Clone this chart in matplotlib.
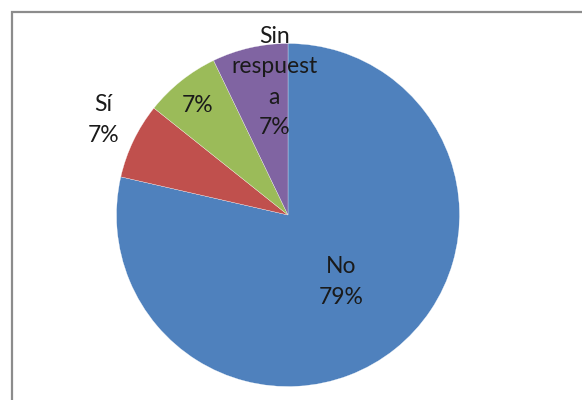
import matplotlib

matplotlib.use("Agg")
import matplotlib.pyplot as plt
import numpy as np
from matplotlib.patches import Rectangle

# datos (conteos) -> 79%, 7%, 7%, 7%
categorias = ["No", "Sí", "", "Sin\nrespuest\na"]
valores = [11, 1, 1, 1]
colores = ["#4F81BD", "#C0504D", "#9BBB59", "#8064A2"]
dist_etiqueta = [0.50, 1.21, 0.83, 0.78]   # radio relativo de cada etiqueta
desfase_ang = [0, -1.5, 1, -7]              # ajuste fino del angulo (grados)

W, H, DPI = 582, 400, 100
R_PX = 171.5
CX, CY = 288, 215  # centro del pastel en pixeles (desde arriba-izquierda)

plt.rcParams["font.family"] = ["Lato", "DejaVu Sans"]

fig = plt.figure(figsize=(W / DPI, H / DPI), dpi=DPI)
ax = fig.add_axes([0, 0, 1, 1])

wedges, _ = ax.pie(
    valores, colors=colores, startangle=90, counterclock=False,
    wedgeprops=dict(edgecolor="white", linewidth=0.2),
)

total = sum(valores)
for w, cat, v, d, da in zip(wedges, categorias, valores, dist_etiqueta, desfase_ang):
    ang = np.deg2rad((w.theta1 + w.theta2) / 2 + da)
    pct = f"{100 * v / total:.0f}%"
    txt = f"{cat}\n{pct}" if cat else pct
    ax.text(d * np.cos(ang), d * np.sin(ang), txt, ha="center", va="center",
            fontsize=16.5, color="#1a1a1a", linespacing=1.55)

ax.set_aspect("auto")
ax.set_xlim(-CX / R_PX, (W - CX) / R_PX)
ax.set_ylim(-(H - CY) / R_PX, CY / R_PX)
ax.axis("off")

# marco gris del area del grafico (se sale por la derecha y abajo)
fig.patches.append(Rectangle((11.5 / W, -0.1), 1.2, 1.1 - 12 / H,
                             transform=fig.transFigure, fill=False,
                             edgecolor="#8c8c8c", linewidth=1.6))

fig.savefig("out.png", dpi=DPI)
